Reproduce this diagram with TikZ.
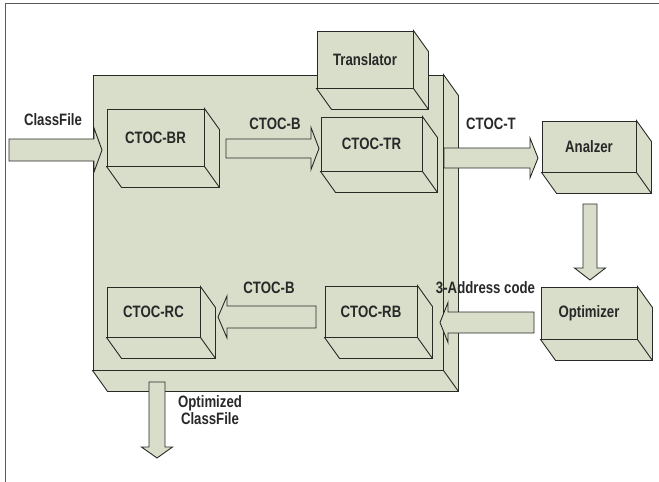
\documentclass[tikz,border=0pt]{standalone}
\usepackage{fontspec}
\setmainfont{Liberation Sans}[FakeStretch=0.8]
\usepackage{xcolor}
\usepackage{tikz}
\usetikzlibrary{calc}
\definecolor{face}{RGB}{216,222,202}
\definecolor{edge}{RGB}{40,42,38}
\definecolor{ink}{RGB}{40,40,40}
\definecolor{framegray}{RGB}{90,90,90}

\begin{document}
\begin{tikzpicture}[x=1pt,y=-1pt,
  box/.style={draw=edge,fill=face,line width=0.9pt,inner sep=0pt,text=ink,
    font=\bfseries\fontsize{16.5}{18}\selectfont},
  lbl/.style={text=ink,inner sep=0pt,align=center,
    font=\bfseries\fontsize{16.5}{17.5}\selectfont},
  slab/.style={draw=edge,fill=face,line width=0.9pt,line join=miter},
  blockarrow/.style n args={3}{draw=edge,fill=face,line width=0.9pt,line join=miter,
    to path={($(\tikztostart)!#1!90:(\tikztotarget)$)
      -- ($(\tikztotarget)!#3!(\tikztostart)!#1!-90:(\tikztostart)$)
      -- ($(\tikztotarget)!#3!(\tikztostart)!#2!-90:(\tikztostart)$)
      -- (\tikztotarget)
      -- ($(\tikztotarget)!#3!(\tikztostart)!#2!90:(\tikztostart)$)
      -- ($(\tikztotarget)!#3!(\tikztostart)!#1!90:(\tikztostart)$)
      -- ($(\tikztostart)!#1!-90:(\tikztotarget)$) -- cycle}}]
\useasboundingbox (0,0) rectangle (659,482);
\def\dx{15}\def\dy{21}
% frame
\draw[framegray,line width=0.8pt] (5,482) |- (659,3);

% front faces
\node[box,minimum width=350pt,minimum height=295pt] (big) at (268,222.5) {};
\node[box,minimum width=96pt,minimum height=57pt] (tl) at (365,59.5) {Translator};
\node[box,minimum width=97pt,minimum height=57pt] (br) at (155.5,137.5) {CTOC-BR};
\node[box,minimum width=101pt,minimum height=54pt] (tr) at (371.5,144) {CTOC-TR};
\node[box,minimum width=94pt,minimum height=51pt] (an) at (589,146.5) {Analzer};
\node[box,minimum width=96pt,minimum height=52pt] (op) at (589,313) {Optimizer};
\node[box,minimum width=92pt,minimum height=51pt] (rb) at (371,311.5) {CTOC-RB};
\node[box,minimum width=93pt,minimum height=50pt] (rc) at (153.5,312) {CTOC-RC};

% depth of every box
\foreach \b in {big,tl,br,tr,an,op,rb,rc}{
  \draw[slab] (\b.north east) -- ++(\dx,\dy)
    -- ([shift={(\dx,\dy)}]\b.south east)
    -- ([shift={(\dx,\dy)}]\b.south west)
    -- (\b.south west) -- (\b.south east) -- cycle;
  \draw[edge,line width=0.9pt] (\b.south east) -- ++(\dx,\dy);
}

% arrow ends
\coordinate (cf-in) at (9,150);    \coordinate (cf-out) at (102,150);
\coordinate (b1-in) at (226,148.5); \coordinate (b1-out) at (319,148.5);
\coordinate (t-in) at (444,158);   \coordinate (t-out) at (538,158);
\coordinate (ao-in) at (590,204);  \coordinate (ao-out) at (590,280);
\coordinate (ad-in) at (534,322.5); \coordinate (ad-out) at (440,322.5);
\coordinate (b2-in) at (316,317);  \coordinate (b2-out) at (218,317);
\coordinate (oc-in) at (157,382);  \coordinate (oc-out) at (157,458);

\draw[blockarrow={11pt}{22pt}{8pt}] (cf-in) to (cf-out);
\draw[blockarrow={9.5pt}{21pt}{8pt}] (b1-in) to (b1-out);
\draw[blockarrow={10pt}{20pt}{8pt}] (t-in) to (t-out);
\draw[blockarrow={7pt}{15.5pt}{12pt}] (ao-in) to (ao-out);
\draw[blockarrow={10.5pt}{20pt}{8pt}] (ad-in) to (ad-out);
\draw[blockarrow={11pt}{21pt}{9pt}] (b2-in) to (b2-out);
\draw[blockarrow={8pt}{15.5pt}{11pt}] (oc-in) to (oc-out);

% labels
\node[lbl] (l-cf) at (53,120) {ClassFile};
\node[lbl] (l-b1) at (275,124) {CTOC-B};
\node[lbl] (l-t) at (491,124) {CTOC-T};
\node[lbl] (l-ad) at (485.5,288) {3-Address code};
\node[lbl] (l-b2) at (269,287.5) {CTOC-B};
\node[lbl] (l-oc) at (210,410) {Optimized\\ClassFile};
\end{tikzpicture}
\end{document}
